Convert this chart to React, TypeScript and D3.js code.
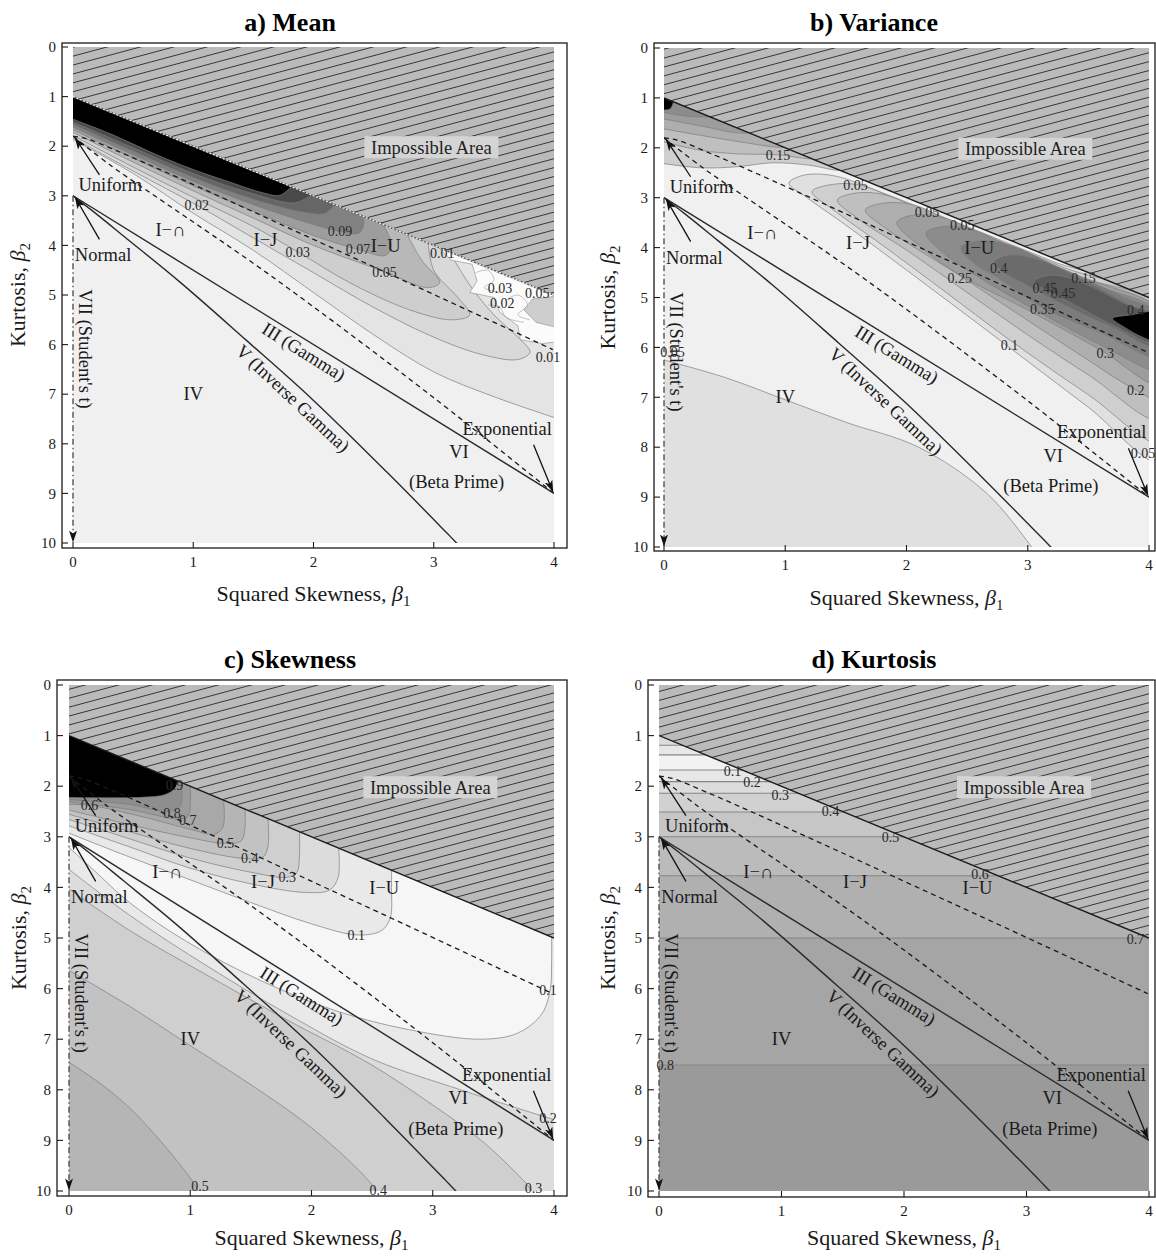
import React from 'react';
import * as d3 from 'd3';

type Pt = [number, number];
type Scale = d3.ScaleLinear<number, number>;

const FONT = '"Liberation Serif", "Times New Roman", Times, serif';

// ---- axes ----
const xTicks = [0, 1, 2, 3, 4];
const yTicks = [0, 1, 2, 3, 4, 5, 6, 7, 8, 9, 10];

// ---- Pearson diagram boundaries, (β1, β2) ----
const impossibleEdge: Pt[] = [[0, 1], [4, 5]];
const impossibleArea: Pt[] = [[0, 0], [4, 0], [4, 5], [0, 1]];
const feasibleArea: Pt[] = [[0, 1], [4, 5], [4, 10], [0, 10]];
const gammaLine: Pt[] = [[0, 3], [4, 9]];
const invGammaCurve: Pt[] = [
  [0, 3], [0.17, 3.32], [0.44, 3.85], [0.89, 4.74], [1.44, 5.91],
  [1.98, 7.08], [2.61, 8.57], [3.11, 9.8], [3.23, 10.1],
];
const bellJBoundary: Pt[] = [[0, 1.8], [0.32, 2.4], [0.74, 3.1], [1.65, 4.62], [3.0, 7.07], [4, 9]];
const jUBoundary: Pt[] = [
  [0, 1.8], [0.1, 1.84], [0.41, 2.14], [0.75, 2.5], [1.38, 3.19],
  [1.92, 3.79], [2.75, 4.71], [3.99, 6.1],
];
const studentAxis: Pt[] = [[0, 3], [0, 9.97]];

const pointerArrows: { from: Pt; to: Pt }[] = [
  { from: [0.22, 2.58], to: [0.02, 1.84] },
  { from: [0.22, 3.88], to: [0.02, 3.04] },
  { from: [3.83, 8.02], to: [3.99, 8.96] },
];

const regionLabels: { text: string; at: Pt }[] = [
  { text: 'Uniform', at: [0.31, 2.78] },
  { text: 'Normal', at: [0.25, 4.19] },
  { text: 'I\u2212\u2229', at: [0.81, 3.69] },
  { text: 'I\u2212J', at: [1.6, 3.89] },
  { text: 'I\u2212U', at: [2.6, 4.0] },
  { text: 'IV', at: [1.0, 6.98] },
  { text: 'VI', at: [3.21, 8.16] },
  { text: '(Beta Prime)', at: [3.19, 8.76] },
  { text: 'Exponential', at: [3.61, 7.69] },
];
const impossibleLabel = { text: 'Impossible Area', at: [2.98, 2.02] as Pt };
const studentLabel = { text: "VII (Student's t)", at: [0.1, 6.09] as Pt };
const curveLabels: { text: string; at: Pt; along: Pt[] }[] = [
  { text: 'III (Gamma)', at: [1.92, 6.14], along: gammaLine },
  { text: 'V (Inverse Gamma)', at: [1.83, 7.08], along: [invGammaCurve[4], invGammaCurve[6]] },
];

// ---- a) Mean: contour bands hugging the I-U edge ----
const meanLevels = [0.01, 0.02, 0.03, 0.05, 0.07, 0.09, 0.11, 0.13, 0.15];
const meanContours: Pt[][] = [
  [[-0.05, 1.8], [0.5, 2.55], [1, 3.35], [1.5, 4.1], [2, 4.95], [2.5, 5.8], [3, 6.55], [3.5, 7.05], [4.1, 7.55]],
  [[-0.05, 1.77], [0.5, 2.5], [1.03, 3.19], [1.5, 3.85], [2, 4.55], [2.5, 5.25], [3, 5.85], [3.4, 6.2], [3.7, 6.3], [3.8, 6.15], [3.7, 5.85], [3.5, 5.4], [3.3, 4.8], [3.1, 4.0]],
  [[-0.05, 1.72], [0.5, 2.42], [1, 3.03], [1.5, 3.62], [1.87, 4.13], [2.3, 4.75], [2.8, 5.3], [3.15, 5.5], [3.3, 5.4], [3.2, 5.05], [3.0, 4.5], [2.95, 3.85]],
  [[-0.05, 1.66], [0.5, 2.32], [1, 2.9], [1.5, 3.45], [2, 4.0], [2.59, 4.53], [2.95, 4.85], [3.05, 4.75], [2.9, 4.3], [2.75, 3.65]],
  [[-0.05, 1.61], [0.5, 2.24], [1, 2.8], [1.5, 3.31], [2, 3.8], [2.37, 4.08], [2.6, 4.2], [2.65, 4.0], [2.55, 3.45]],
  [[-0.05, 1.56], [0.5, 2.17], [1, 2.71], [1.5, 3.18], [2, 3.58], [2.22, 3.72], [2.38, 3.75], [2.42, 3.5], [2.38, 3.3]],
  [[-0.05, 1.51], [0.5, 2.1], [1, 2.63], [1.5, 3.07], [1.9, 3.32], [2.1, 3.35], [2.2, 3.1]],
  [[-0.05, 1.46], [0.5, 2.03], [1, 2.55], [1.5, 2.96], [1.85, 3.14], [2.0, 2.95]],
  [[-0.05, 1.41], [0.3, 1.74], [0.75, 2.23], [1.0, 2.47], [1.3, 2.72], [1.58, 2.94], [1.72, 2.99], [1.82, 2.8]],
];
const meanFlatPatch: Pt[] = [
  [3.0, 3.95], [3.15, 4.3], [3.32, 4.38], [3.36, 4.72], [3.3, 4.95], [3.5, 5.05], [3.55, 5.35],
  [3.7, 5.62], [3.72, 5.9], [3.9, 5.98], [4.1, 5.92], [4.1, 4.8],
];
const meanRipples: Pt[][] = [
  [[3.35, 4.55], [3.45, 4.5], [3.5, 4.7], [3.42, 4.85], [3.55, 4.95]],
  [[3.6, 5.1], [3.7, 5.0], [3.78, 5.2], [3.7, 5.4], [3.8, 5.5]],
  [[3.45, 5.2], [3.55, 5.25], [3.6, 5.45], [3.75, 5.55]],
  [[3.2, 4.15], [3.3, 4.25], [3.42, 4.3]],
];
const meanRimPatch: Pt[] = [[3.82, 5.08], [3.75, 5.3], [3.85, 5.55], [4.1, 5.7], [4.1, 5.0]];
const meanRimLevel = 0.03;
const meanLabels: [string, Pt][] = [
  ['0.02', [1.03, 3.19]], ['0.09', [2.22, 3.72]], ['0.07', [2.37, 4.08]], ['0.03', [1.87, 4.13]],
  ['0.05', [2.59, 4.53]], ['0.01', [3.07, 4.16]], ['0.03', [3.55, 4.86]], ['0.05', [3.86, 4.97]],
  ['0.02', [3.57, 5.17]], ['0.01', [3.95, 6.26]],
];

// ---- b) Variance ----
const varianceWedgeLevels = [0.1, 0.15, 0.2, 0.25, 0.3, 0.5];
const varianceWedge: Pt[][] = [
  [[-0.05, 2.3], [0.3, 2.4], [0.6, 2.38], [0.9, 2.3], [1.2, 2.35], [1.45, 2.45], [1.5, 2.4]],
  [[-0.05, 1.85], [0.3, 2.05], [0.6, 2.12], [0.94, 2.14], [1.2, 2.22], [1.3, 2.2]],
  [[-0.05, 1.6], [0.3, 1.75], [0.6, 1.87], [0.9, 1.98], [1.05, 2.0]],
  [[-0.05, 1.4], [0.3, 1.56], [0.6, 1.7], [0.75, 1.7]],
  [[-0.05, 1.27], [0.2, 1.37], [0.4, 1.38]],
  [[-0.05, 1.24], [0.05, 1.22], [0.08, 1.06]],
];
const varianceTongueLevels = [0.05, 0.1, 0.15, 0.2, 0.25, 0.3, 0.35, 0.4, 0.45, 0.5];
const varianceTongues: Pt[][] = [
  [[1.03, 2.71], [1.15, 2.55], [1.4, 2.56], [1.8, 2.9], [2.5, 3.58], [3.2, 4.27], [4.1, 5.16], [4.1, 8.3], [3.5, 7.2], [3.0, 6.28], [2.5, 5.36], [2.0, 4.45], [1.5, 3.55], [1.18, 3.0]],
  [[1.22, 2.88], [1.35, 2.75], [1.6, 2.74], [2.0, 3.12], [2.6, 3.7], [3.3, 4.4], [4.1, 5.19], [4.1, 7.9], [3.5, 6.95], [2.85, 5.85], [2.3, 4.85], [1.8, 3.95], [1.4, 3.25]],
  [[1.43, 3.05], [1.55, 2.92], [1.8, 2.93], [2.2, 3.33], [2.8, 3.92], [3.46, 4.6], [4.1, 5.22], [4.1, 7.45], [3.5, 6.55], [3.0, 5.75], [2.5, 4.9], [2.0, 4.05], [1.6, 3.42]],
  [[1.66, 3.25], [1.78, 3.12], [2.05, 3.14], [2.5, 3.65], [3.1, 4.25], [3.7, 4.86], [4.1, 5.26], [4.1, 7.05], [3.89, 6.85], [3.4, 6.1], [2.9, 5.3], [2.4, 4.5], [1.85, 3.65]],
  [[1.92, 3.5], [2.05, 3.35], [2.3, 3.4], [2.8, 3.95], [3.4, 4.56], [4.1, 5.3], [4.1, 6.75], [3.6, 6.05], [3.0, 5.25], [2.44, 4.55], [2.1, 3.95]],
  [[2.16, 3.71], [2.3, 3.58], [2.55, 3.65], [3.0, 4.15], [3.6, 4.78], [4.1, 5.34], [4.1, 6.45], [3.64, 6.0], [3.1, 5.3], [2.6, 4.6], [2.3, 4.1]],
  [[2.45, 4.0], [2.6, 3.87], [2.85, 3.95], [3.3, 4.45], [3.8, 5.0], [4.1, 5.36], [4.1, 6.2], [3.6, 5.7], [3.12, 5.2], [2.75, 4.6], [2.55, 4.3]],
  [[2.72, 4.3], [2.85, 4.15], [3.1, 4.25], [3.5, 4.7], [3.89, 5.2], [4.1, 5.4], [4.1, 6.02], [3.7, 5.6], [3.3, 5.15], [2.95, 4.7], [2.8, 4.5]],
  [[3.05, 4.68], [3.2, 4.55], [3.45, 4.7], [3.8, 5.12], [4.1, 5.43], [4.1, 5.94], [3.7, 5.55], [3.35, 5.1], [3.15, 4.85]],
  [[3.7, 5.42], [3.85, 5.35], [4.1, 5.3], [4.1, 5.9], [3.95, 5.8], [3.8, 5.6]],
];
const varianceTail: Pt[] = [[-0.05, 6.22], [0.5, 6.6], [1, 7.05], [1.5, 7.5], [2.1, 8.0], [2.66, 8.92], [3.02, 9.96], [3.06, 10.1]];
const varianceTailLevel = 0.05;
const varianceLabels: [string, Pt][] = [
  ['0.15', [0.94, 2.14]], ['0.05', [1.58, 2.75]], ['0.05', [2.17, 3.28]], ['0.05', [2.46, 3.55]],
  ['0.25', [2.44, 4.62]], ['0.4', [2.76, 4.42]], ['0.45', [3.14, 4.82]], ['0.45', [3.29, 4.92]],
  ['0.35', [3.12, 5.24]], ['0.15', [3.46, 4.62]], ['0.1', [2.85, 5.95]], ['0.4', [3.89, 5.25]],
  ['0.3', [3.64, 6.12]], ['0.2', [3.89, 6.85]], ['0.05', [3.95, 8.12]], ['0.05', [0.07, 6.09]],
];

// ---- c) Skewness ----
const skewUpperLevels = [0.1, 0.2, 0.3, 0.4, 0.5, 0.6, 0.7, 0.8, 0.9];
const skewUpper: Pt[][] = [
  [[-0.05, 2.88], [0.5, 3.4], [1, 3.85], [1.5, 4.3], [2, 4.72], [2.38, 4.94], [2.58, 4.85], [2.65, 4.6], [2.66, 4.0], [2.66, 3.55]],
  [[-0.05, 2.74], [0.5, 3.2], [1, 3.62], [1.5, 3.93], [1.95, 4.1], [2.15, 4.05], [2.22, 3.8], [2.22, 3.1]],
  [[-0.05, 2.62], [0.5, 3.04], [1, 3.42], [1.5, 3.7], [1.8, 3.8], [1.88, 3.7], [1.9, 3.4], [1.9, 2.8]],
  [[-0.05, 2.52], [0.5, 2.9], [1, 3.23], [1.45, 3.43], [1.6, 3.4], [1.64, 3.2], [1.64, 2.55]],
  [[-0.05, 2.44], [0.5, 2.76], [1, 3.02], [1.29, 3.13], [1.42, 3.08], [1.45, 2.85], [1.45, 2.35]],
  [[-0.05, 2.36], [0.17, 2.38], [0.6, 2.6], [1.0, 2.85], [1.2, 2.95], [1.27, 2.8], [1.27, 2.15]],
  [[-0.05, 2.3], [0.5, 2.46], [0.9, 2.65], [0.98, 2.6], [1.0, 2.35], [1.0, 1.9]],
  [[-0.05, 2.26], [0.5, 2.36], [0.82, 2.5], [0.92, 2.38], [0.93, 2.1], [0.93, 1.85]],
  [[-0.05, 2.22], [0.6, 2.22], [0.8, 2.16], [0.88, 2.02], [0.9, 1.85]],
];
const skewLowerLevels = [0.1, 0.2, 0.3, 0.4, 0.5];
const skewLower: Pt[][] = [
  [[-0.05, 3.1], [0.2, 3.65], [0.5, 4.3], [0.97, 5.07], [1.58, 5.84], [2.19, 6.43], [2.8, 6.81], [3.4, 7.0], [3.7, 6.88], [3.9, 6.5], [3.97, 6.0], [3.98, 5.5], [3.98, 4.8]],
  [[-0.05, 3.55], [0.5, 4.55], [1.15, 5.57], [1.8, 6.5], [2.49, 7.38], [3.23, 8.0], [3.96, 8.56], [4.1, 8.66]],
  [[-0.05, 3.95], [0.5, 4.85], [1.15, 5.75], [1.8, 6.62], [2.49, 7.5], [3.0, 8.3], [3.4, 9.0], [3.75, 9.8], [3.85, 10.1]],
  [[-0.05, 5.57], [0.5, 6.35], [0.97, 7.08], [1.5, 7.9], [2.0, 8.75], [2.49, 9.85], [2.55, 10.1]],
  [[-0.05, 7.38], [0.3, 7.95], [0.6, 8.6], [1.03, 9.85], [1.08, 10.1]],
];
const skewLabels: [string, Pt][] = [
  ['0.9', [0.87, 1.98]], ['0.8', [0.85, 2.54]], ['0.7', [0.98, 2.67]], ['0.6', [0.17, 2.37]],
  ['0.5', [1.29, 3.13]], ['0.4', [1.49, 3.43]], ['0.3', [1.8, 3.79]], ['0.1', [2.37, 4.94]],
  ['0.1', [3.95, 6.03]], ['0.2', [3.95, 8.56]], ['0.5', [1.08, 9.91]], ['0.4', [2.55, 9.98]],
  ['0.3', [3.83, 9.95]],
];

// ---- d) Kurtosis: horizontal contours ----
const kurtosisContours = [1.19, 1.38, 1.68, 1.91, 2.14, 2.51, 3.0, 3.77, 5.0, 7.51];
const kurtosisBandValues = [0.25, 0.15, 0.05, 0.15, 0.25, 0.35, 0.45, 0.55, 0.65, 0.75, 0.85];
const kurtosisLabels: [string, Pt][] = [
  ['0.1', [0.6, 1.71]], ['0.2', [0.76, 1.91]], ['0.3', [0.99, 2.17]], ['0.4', [1.4, 2.5]],
  ['0.5', [1.89, 3.01]], ['0.6', [2.62, 3.74]], ['0.7', [3.89, 5.03]], ['0.8', [0.05, 7.51]],
];

// ---- layout ----
interface Frame {
  id: string; title: string; titleX: number;
  x0: number; x4: number; y0: number; y10: number;
  left: number; right: number; top: number; bottom: number;
  xLabelY: number; yLabelX: number;
}
const frames: Record<string, Frame> = {
  a: { id: 'a', title: 'a) Mean', titleX: 290, x0: 73, x4: 554, y0: 47, y10: 543, left: 62, right: 567, top: 43, bottom: 548, xLabelY: 601, yLabelX: 25 },
  b: { id: 'b', title: 'b) Variance', titleX: 874, x0: 664, x4: 1149, y0: 48, y10: 547, left: 654, right: 1155, top: 43, bottom: 551, xLabelY: 605, yLabelX: 615 },
  c: { id: 'c', title: 'c) Skewness', titleX: 290, x0: 69, x4: 554, y0: 685, y10: 1191, left: 57, right: 567, top: 680, bottom: 1196, xLabelY: 1245, yLabelX: 26 },
  d: { id: 'd', title: 'd) Kurtosis', titleX: 874, x0: 659, x4: 1149, y0: 685, y10: 1191, left: 648, right: 1155, top: 680, bottom: 1197, xLabelY: 1245, yLabelX: 615 },
};

const ABOVE: Pt[] = [[4.6, -0.5], [-0.6, -0.5]];
const BELOW: Pt[] = [[4.6, 10.6], [-0.6, 10.6]];
const CONTOUR_STROKE = '#7c7c7c';

function makeScales(f: Frame) {
  const x = d3.scaleLinear().domain([0, 4]).range([f.x0, f.x4]);
  const y = d3.scaleLinear().domain([0, 10]).range([f.y0, f.y10]);
  return { x, y };
}

function linePath(x: Scale, y: Scale, pts: Pt[]) {
  return d3.line<Pt>().x(p => x(p[0])).y(p => y(p[1]))(pts) ?? '';
}
function smoothPath(x: Scale, y: Scale, pts: Pt[]) {
  return d3.line<Pt>().x(p => x(p[0])).y(p => y(p[1])).curve(d3.curveCatmullRom.alpha(0.5))(pts) ?? '';
}
function closedSmooth(x: Scale, y: Scale, pts: Pt[]) {
  return d3.line<Pt>().x(p => x(p[0])).y(p => y(p[1])).curve(d3.curveCatmullRomClosed.alpha(0.5))(pts) ?? '';
}
function bandPath(x: Scale, y: Scale, contour: Pt[], closure: Pt[]) {
  return smoothPath(x, y, contour) + closure.map(p => `L${x(p[0])},${y(p[1])}`).join('') + 'Z';
}

function Band({ x, y, pts, closure, fill }: { x: Scale; y: Scale; pts: Pt[]; closure: Pt[]; fill: string }) {
  return (
    <g>
      <path d={bandPath(x, y, pts, closure)} fill={fill} stroke="none" />
      <path d={smoothPath(x, y, pts)} fill="none" stroke={CONTOUR_STROKE} strokeWidth={0.7} />
    </g>
  );
}

function ContourLabels({ x, y, items }: { x: Scale; y: Scale; items: [string, Pt][] }) {
  return (
    <g fontFamily={FONT} fontSize={14} fill="#2a2a2a" textAnchor="middle">
      {items.map(([t, p], i) => (
        <text key={i} x={x(p[0])} y={y(p[1])} dy="0.35em">{t}</text>
      ))}
    </g>
  );
}

function MeanShading({ x, y }: { x: Scale; y: Scale }) {
  const gray = d3.scaleLinear<string>().domain([0.01, 0.05, 0.13, 0.15]).range(['#e4e4e4', '#b8b8b8', '#4a4a4a', '#000000']);
  return (
    <g>
      {meanContours.map((c, i) => (
        <Band key={i} x={x} y={y} pts={c} closure={ABOVE} fill={gray(meanLevels[i])} />
      ))}
      <path d={linePath(x, y, meanFlatPatch) + 'Z'} fill="#fbfbfb" stroke="#8a8a8a" strokeWidth={0.6} />
      {meanRipples.map((r, i) => (
        <path key={i} d={smoothPath(x, y, r)} fill="none" stroke="#9a9a9a" strokeWidth={0.6} />
      ))}
      <path d={linePath(x, y, meanRimPatch) + 'Z'} fill={gray(meanRimLevel)} stroke="#8a8a8a" strokeWidth={0.6} />
    </g>
  );
}

function VarianceShading({ x, y }: { x: Scale; y: Scale }) {
  const gray = d3.scaleLinear<string>().domain([0.05, 0.45, 0.5]).range(['#e0e0e0', '#5a5a5a', '#000000']);
  return (
    <g>
      <Band x={x} y={y} pts={varianceTail} closure={BELOW} fill={gray(varianceTailLevel)} />
      {varianceWedge.map((c, i) => (
        <Band key={i} x={x} y={y} pts={c} closure={ABOVE} fill={gray(varianceWedgeLevels[i])} />
      ))}
      {varianceTongues.map((c, i) => (
        <path key={i} d={closedSmooth(x, y, c)} fill={gray(varianceTongueLevels[i])} stroke={CONTOUR_STROKE} strokeWidth={0.7} />
      ))}
    </g>
  );
}

function SkewShading({ x, y }: { x: Scale; y: Scale }) {
  const gray = d3.scaleLinear<string>().domain([0.05, 0.85]).range(['#f6f6f6', '#8e8e8e']);
  const fillFor = (t: number) => (t >= 0.9 ? '#000000' : gray(t + 0.05));
  return (
    <g>
      {skewLower.map((c, i) => (
        <Band key={'l' + i} x={x} y={y} pts={c}
          closure={i === 0 ? [[4.6, 4.8], [4.6, 10.6], [-0.6, 10.6]] : BELOW}
          fill={fillFor(skewLowerLevels[i])} />
      ))}
      {skewUpper.map((c, i) => (
        <Band key={'u' + i} x={x} y={y} pts={c} closure={ABOVE} fill={fillFor(skewUpperLevels[i])} />
      ))}
    </g>
  );
}

function KurtosisShading({ x, y }: { x: Scale; y: Scale }) {
  const gray = d3.scaleLinear<string>().domain([0.05, 0.85]).range(['#f2f2f2', '#9a9a9a']);
  const edges = [0.5, ...kurtosisContours, 10];
  return (
    <g>
      {kurtosisBandValues.map((v, i) => (
        <rect key={i} x={x(0)} width={x(4) - x(0)} y={y(edges[i])} height={y(edges[i + 1]) - y(edges[i])} fill={gray(v)} />
      ))}
      {kurtosisContours.map((b2, i) => (
        <line key={'c' + i} x1={x(0)} x2={x(4)} y1={y(b2)} y2={y(b2)} stroke="#858585" strokeWidth={1.1} />
      ))}
    </g>
  );
}

function Panel({ frame, base, edgeWhite, shading, labels }: {
  frame: Frame; base: string; edgeWhite?: boolean;
  shading: (x: Scale, y: Scale) => React.ReactNode; labels: [string, Pt][];
}) {
  const { x, y } = makeScales(frame);
  const id = frame.id;
  const cx = (frame.x0 + frame.x4) / 2;
  const cy = (frame.y0 + frame.y10) / 2;
  const angleOf = (seg: Pt[]) => {
    const a = seg[0];
    const b = seg[seg.length - 1];
    return (Math.atan2(y(b[1]) - y(a[1]), x(b[0]) - x(a[0])) * 180) / Math.PI;
  };
  const imp = impossibleLabel.at;
  return (
    <g>
      <defs>
        <clipPath id={`feas-${id}`}><path d={linePath(x, y, feasibleArea) + 'Z'} /></clipPath>
        <clipPath id={`area-${id}`}><rect x={x(0)} y={y(0)} width={x(4) - x(0)} height={y(10) - y(0)} /></clipPath>
      </defs>
      <path d={linePath(x, y, feasibleArea) + 'Z'} fill={base} />
      <g clipPath={`url(#feas-${id})`}>{shading(x, y)}</g>
      <path d={linePath(x, y, impossibleArea) + 'Z'} fill="url(#hatch)" />
      <rect x={x(imp[0]) - 67} y={y(imp[1]) - 11} width={134} height={22} fill="#d4d4d4" />
      <text x={x(imp[0])} y={y(imp[1])} dy="0.35em" textAnchor="middle" fontFamily={FONT} fontSize={18.5} fill="#222">
        {impossibleLabel.text}
      </text>

      <g clipPath={`url(#area-${id})`} fill="none">
        {edgeWhite ? (
          <g>
            <path d={linePath(x, y, impossibleEdge)} stroke="#555" strokeWidth={1.5} />
            <path d={linePath(x, y, impossibleEdge)} stroke="#fff" strokeWidth={1.1} strokeDasharray="2,1.6" />
          </g>
        ) : (
          <path d={linePath(x, y, impossibleEdge)} stroke="#1a1a1a" strokeWidth={1.4} />
        )}
        <path d={smoothPath(x, y, bellJBoundary)} stroke="#1a1a1a" strokeWidth={1.3} strokeDasharray="5,4" />
        <path d={smoothPath(x, y, jUBoundary)} stroke="#1a1a1a" strokeWidth={1.3} strokeDasharray="5,4" />
        <path d={linePath(x, y, gammaLine)} stroke="#2a2a2a" strokeWidth={1.4} />
        <path d={smoothPath(x, y, invGammaCurve)} stroke="#2a2a2a" strokeWidth={1.4} />
      </g>
      <path d={linePath(x, y, studentAxis)} fill="none" stroke="#444" strokeWidth={1.3}
        strokeDasharray="6,3,1.5,3" markerEnd="url(#arrowHead)" />
      {pointerArrows.map((a, i) => (
        <line key={i} x1={x(a.from[0])} y1={y(a.from[1])} x2={x(a.to[0])} y2={y(a.to[1])}
          stroke="#111" strokeWidth={1.3} markerEnd="url(#arrowHead)" />
      ))}

      <g fontFamily={FONT} fontSize={18.5} fill="#1a1a1a" textAnchor="middle">
        {regionLabels.map((l, i) => (
          <text key={i} x={x(l.at[0])} y={y(l.at[1])} dy="0.35em">{l.text}</text>
        ))}
        {curveLabels.map((l, i) => (
          <text key={'c' + i} dy="0.35em"
            transform={`translate(${x(l.at[0])},${y(l.at[1])}) rotate(${angleOf(l.along)})`}>{l.text}</text>
        ))}
        <text dy="0.35em" transform={`translate(${x(studentLabel.at[0])},${y(studentLabel.at[1])}) rotate(90)`}>
          {studentLabel.text}
        </text>
      </g>
      <ContourLabels x={x} y={y} items={labels} />

      {/* frame */}
      <rect x={frame.left} y={frame.top} width={frame.right - frame.left} height={frame.bottom - frame.top}
        fill="none" stroke="#1a1a1a" strokeWidth={1.3} />
      <g stroke="#1a1a1a" strokeWidth={1.1}>
        {yTicks.map(t => (
          <line key={'y' + t} x1={frame.left} x2={frame.left + 6} y1={y(t)} y2={y(t)} />
        ))}
        {xTicks.map(t => (
          <line key={'x' + t} x1={x(t)} x2={x(t)} y1={frame.bottom} y2={frame.bottom - 6} />
        ))}
      </g>
      <g fontFamily={FONT} fontSize={15} fill="#1a1a1a">
        {yTicks.map(t => (
          <text key={'y' + t} x={frame.left - 6} y={y(t)} dy="0.35em" textAnchor="end">{t}</text>
        ))}
        {xTicks.map(t => (
          <text key={'x' + t} x={x(t)} y={frame.bottom + 19} textAnchor="middle">{t}</text>
        ))}
      </g>
      <text x={frame.titleX} y={frame.top - 12} textAnchor="middle" fontFamily={FONT} fontSize={26} fontWeight="bold" fill="#000">
        {frame.title}
      </text>
      <text x={cx} y={frame.xLabelY} textAnchor="middle" fontFamily={FONT} fontSize={22} fill="#1a1a1a">
        {'Squared Skewness, '}<tspan fontStyle="italic">β</tspan><tspan fontSize={15} dy={5}>1</tspan>
      </text>
      <text transform={`translate(${frame.yLabelX},${cy}) rotate(-90)`} textAnchor="middle" fontFamily={FONT} fontSize={22} fill="#1a1a1a">
        {'Kurtosis, '}<tspan fontStyle="italic">β</tspan><tspan fontSize={15} dy={5}>2</tspan>
      </text>
    </g>
  );
}

export default function App() {
  return (
    <svg width={1156} height={1256} style={{ position: 'absolute', left: 0, top: 0, display: 'block' }}>
      <defs>
        <pattern id="hatch" patternUnits="userSpaceOnUse" width={60} height={8.6} patternTransform="rotate(-15)">
          <rect width={60} height={8.6} fill="#bababa" />
          <line x1={0} x2={60} y1={4.3} y2={4.3} stroke="#353535" strokeWidth={1} />
        </pattern>
        <marker id="arrowHead" viewBox="0 0 12 8" refX={11} refY={4} markerWidth={12} markerHeight={8}
          markerUnits="userSpaceOnUse" orient="auto">
          <path d="M0,0 L12,4 L0,8 L3,4 Z" fill="#111" />
        </marker>
      </defs>
      <rect width={1156} height={1256} fill="#fff" />
      <Panel frame={frames.a} base="#f0f0f0" edgeWhite labels={meanLabels} shading={(x, y) => <MeanShading x={x} y={y} />} />
      <Panel frame={frames.b} base="#f0f0f0" labels={varianceLabels} shading={(x, y) => <VarianceShading x={x} y={y} />} />
      <Panel frame={frames.c} base="#f6f6f6" labels={skewLabels} shading={(x, y) => <SkewShading x={x} y={y} />} />
      <Panel frame={frames.d} base="#f0f0f0" labels={kurtosisLabels} shading={(x, y) => <KurtosisShading x={x} y={y} />} />
    </svg>
  );
}
